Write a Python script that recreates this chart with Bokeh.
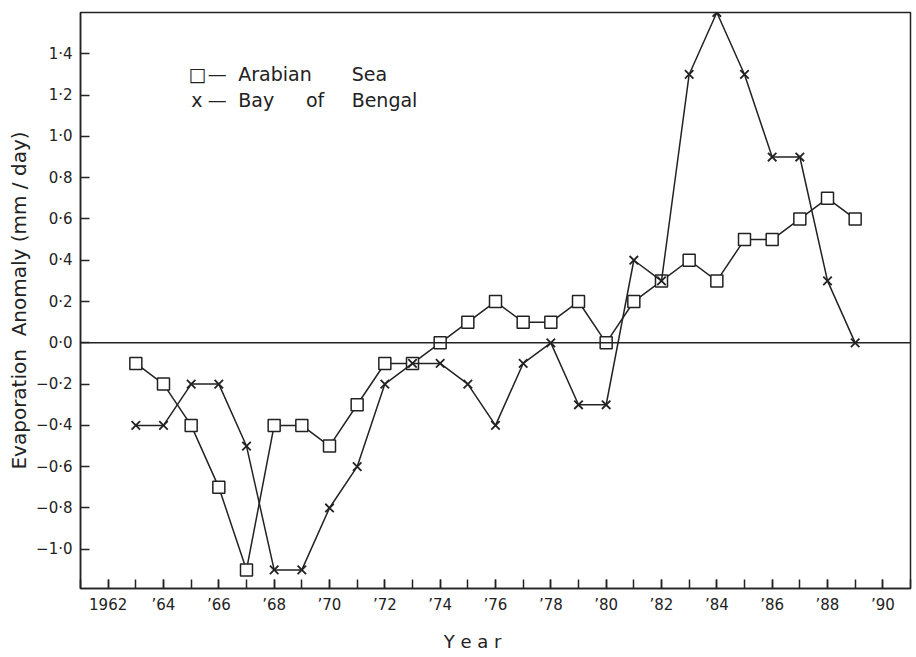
from bokeh.plotting import figure
from bokeh.models import Range1d, FixedTicker, Span, Label
from bokeh.embed import file_html
from bokeh.resources import INLINE

years = list(range(1963, 1990))
arabian_sea = [-0.1, -0.2, -0.4, -0.7, -1.1, -0.4, -0.4, -0.5, -0.3, -0.1, -0.1, 0.0,
               0.1, 0.2, 0.1, 0.1, 0.2, 0.0, 0.2, 0.3, 0.4, 0.3, 0.5, 0.5, 0.6, 0.7, 0.6]
bay_of_bengal = [-0.4, -0.4, -0.2, -0.2, -0.5, -1.1, -1.1, -0.8, -0.6, -0.2, -0.1, -0.1,
                 -0.2, -0.4, -0.1, 0.0, -0.3, -0.3, 0.4, 0.3, 1.3, 1.6, 1.3, 0.9, 0.9, 0.3, 0.0]

x_tick_years = [1962, 1964, 1966, 1968, 1970, 1972, 1974, 1976, 1978, 1980, 1982, 1984, 1986, 1988, 1990]
x_tick_labels = ["1962", "\u201964", "\u201966", "\u201968", "\u201970", "\u201972", "\u201974", "\u201976",
                 "\u201978", "\u201980", "\u201982", "\u201984", "\u201986", "\u201988", "\u201990"]
x_minor_years = list(range(1961, 1992))
y_tick_values = [-1.0, -0.8, -0.6, -0.4, -0.2, 0.0, 0.2, 0.4, 0.6, 0.8, 1.0, 1.2, 1.4]
y_tick_labels = ["\u22121\u00b70", "\u22120\u00b78", "\u22120\u00b76", "\u22120\u00b74", "\u22120\u00b72",
                 "0\u00b70", "0\u00b72", "0\u00b74", "0\u00b76", "0\u00b78", "1\u00b70", "1\u00b72", "1\u00b74"]

INK = "#222222"
FONT = "DejaVu Sans"
NB = "\u00a0"

p = figure(width=912, height=655, output_backend="svg", toolbar_location=None,
           x_range=Range1d(1961.0, 1991.0), y_range=Range1d(-1.19, 1.6),
           min_border_left=80, min_border_right=2, min_border_top=12, min_border_bottom=67)

p.grid.visible = False
p.outline_line_color = INK
p.outline_line_width = 1.5
p.background_fill_color = "white"
p.border_fill_color = "white"

# zero line
p.add_layout(Span(location=0, dimension="width", line_color=INK, line_width=1.5))

# series
p.line(years, arabian_sea, line_color=INK, line_width=1.5)
p.scatter(years, arabian_sea, marker="square", size=12, line_color=INK, line_width=1.5,
          fill_color="white")
p.line(years, bay_of_bengal, line_color=INK, line_width=1.5)
p.scatter(years, bay_of_bengal, marker="x", size=12, line_color=INK, line_width=1.8)

# x axis
xa = p.xaxis[0]
xa.ticker = FixedTicker(ticks=x_tick_years, minor_ticks=x_minor_years)
xa.major_label_overrides = {y: l for y, l in zip(x_tick_years, x_tick_labels)}
xa.axis_label = "Y" + NB + "e" + NB + "a" + NB + "r" + NB * 8
# y axis
ya = p.yaxis[0]
ya.ticker = FixedTicker(ticks=y_tick_values)
ya.major_label_overrides = {v: l for v, l in zip(y_tick_values, y_tick_labels)}
ya.axis_label = "Evaporation" + NB + NB + "Anomaly" + NB + "(mm" + NB + "/" + NB + "day)"

for ax in (xa, ya):
    ax.axis_line_color = INK
    ax.axis_line_width = 1.5
    ax.major_tick_line_color = INK
    ax.minor_tick_line_color = INK
    ax.major_tick_line_width = 1.5
    ax.minor_tick_line_width = 1.5
    ax.major_tick_in = 9
    ax.major_tick_out = 0
    ax.minor_tick_in = 9
    ax.minor_tick_out = 0
    ax.major_label_text_font = FONT
    ax.major_label_text_font_size = "15px"
    ax.major_label_text_color = INK
    ax.axis_label_text_font = FONT
    ax.axis_label_text_font_style = "normal"
    ax.axis_label_text_color = INK

xa.axis_label_text_font_size = "18px"
ya.axis_label_text_font_size = "20px"
xa.major_label_standoff = 7
xa.axis_label_standoff = 14
ya.major_label_standoff = 8
ya.axis_label_standoff = 2

# legend as text
legend_style = dict(text_font=FONT, text_font_size="19px", text_color=INK, text_baseline="middle")
p.add_layout(Label(x=1964.9, y=1.30, text="\u25a1", **legend_style))
p.add_layout(Label(x=1965.6, y=1.30, text="\u2014", **legend_style))
p.add_layout(Label(x=1966.7, y=1.30, text="Arabian", **legend_style))
p.add_layout(Label(x=1970.8, y=1.30, text="Sea", **legend_style))
p.add_layout(Label(x=1965.0, y=1.175, text="x", **legend_style))
p.add_layout(Label(x=1965.6, y=1.175, text="\u2014", **legend_style))
p.add_layout(Label(x=1966.7, y=1.175, text="Bay", **legend_style))
p.add_layout(Label(x=1969.15, y=1.175, text="of", **legend_style))
p.add_layout(Label(x=1970.8, y=1.175, text="Bengal", **legend_style))

open("out.html", "w").write(file_html(p, INLINE))
